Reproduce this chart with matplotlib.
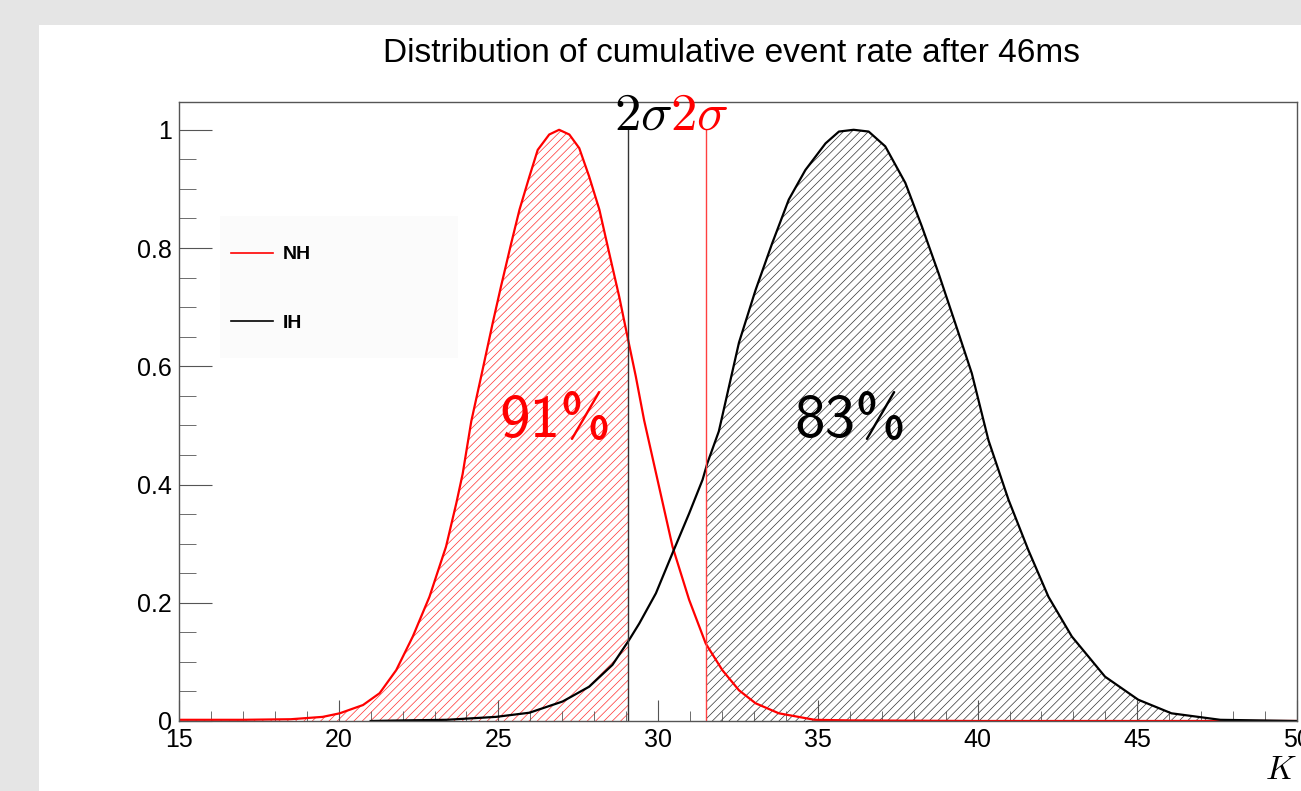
import numpy as np
import matplotlib.pyplot as plt
from matplotlib.patches import Rectangle
from matplotlib.lines import Line2D
from matplotlib.ticker import MultipleLocator

# values
k_nh = [15, 17, 18.5, 19.5, 20.03, 20.76, 21.28, 21.8, 22.32, 22.84, 23.36, 23.68,
        23.88, 24.15, 24.46, 24.82, 25.08, 25.4, 25.66, 25.97, 26.23, 26.59, 26.9,
        27.22, 27.53, 27.84, 28.16, 28.47, 28.78, 29.04, 29.3, 29.56, 30.03, 30.45,
        30.97, 31.49, 32.01, 32.53, 33.05, 33.78, 34.9, 36, 40, 45, 50]
nh = [0.002, 0.002, 0.003, 0.007, 0.013, 0.027, 0.047, 0.086, 0.143, 0.21, 0.295,
      0.368, 0.418, 0.507, 0.583, 0.673, 0.735, 0.808, 0.865, 0.921, 0.966, 0.992,
      1.0, 0.992, 0.969, 0.921, 0.865, 0.791, 0.718, 0.65, 0.583, 0.509, 0.396,
      0.295, 0.205, 0.131, 0.086, 0.052, 0.03, 0.013, 0.002, 0.001, 0.0, 0.0, 0.0]

k_ih = [21, 22, 23.37, 24.93, 25.97, 27.01, 27.84, 28.57, 29.09, 29.41, 29.93,
        30.45, 30.97, 31.39, 31.54, 31.9, 32.11, 32.53, 33.05, 33.57, 34.09, 34.61,
        35.24, 35.66, 36.12, 36.59, 37.11, 37.74, 38.26, 38.78, 39.3, 39.82, 40.34,
        40.97, 41.59, 42.22, 42.95, 43.99, 45.03, 46.07, 47.6, 50]
ih = [0.0, 0.001, 0.002, 0.007, 0.014, 0.033, 0.058, 0.095, 0.137, 0.165, 0.216,
      0.284, 0.351, 0.408, 0.436, 0.49, 0.54, 0.64, 0.729, 0.808, 0.882, 0.932,
      0.977, 0.997, 1.0, 0.997, 0.972, 0.91, 0.836, 0.757, 0.673, 0.588, 0.475,
      0.374, 0.289, 0.21, 0.143, 0.075, 0.036, 0.013, 0.002, 0.0]

cut_ih = 29.06   # black 2 sigma line
cut_nh = 31.5    # red 2 sigma line
frac_nh = "91%"
frac_ih = "83%"

plt.rcParams['font.family'] = ['Liberation Sans', 'DejaVu Sans']
plt.rcParams['mathtext.fontset'] = 'cm'
plt.rcParams['hatch.linewidth'] = 0.5


def main():
    fig = plt.figure(figsize=(13.01, 7.91), dpi=100, facecolor='#e5e5e5')
    fig.patches.append(Rectangle((39 / 1301, 0), 1, 1 - 25 / 791, transform=fig.transFigure,
                                 facecolor='white', edgecolor='none', zorder=-10))

    ax = fig.add_axes([179 / 1301, 70 / 791, 1118 / 1301, 619 / 791])
    ax.set_xlim(15, 50)
    ax.set_ylim(0, 1.047)

    kn = np.array(k_nh)
    ki = np.array(k_ih)

    f1 = ax.fill_between(kn, nh, 0, facecolor='none', edgecolor='#ff3030', hatch='////', linewidth=0)
    f1.set_clip_path(Rectangle((15, 0), cut_ih - 15, 2, transform=ax.transData))
    f2 = ax.fill_between(ki, ih, 0, facecolor='none', edgecolor='#333333', hatch='////', linewidth=0)
    f2.set_clip_path(Rectangle((cut_nh, 0), 50 - cut_nh, 2, transform=ax.transData))

    ax.plot(kn, nh, color='red', lw=1.6)
    ax.plot(ki, ih, color='black', lw=1.6)

    ax.plot([cut_ih, cut_ih], [0, 1.0], color='#333333', lw=1)
    ax.plot([cut_nh, cut_nh], [0, 1.0], color='#ff4040', lw=1)

    ax.text(29.52, 1.0, r"$2\sigma$", color='black', fontsize=38, ha='center', va='baseline')
    ax.text(31.28, 1.0, r"$2\sigma$", color='red', fontsize=38, ha='center', va='baseline')

    ax.text(26.78, 0.48, frac_nh, color='red', fontsize=44, family='cmss10',
            ha='center', va='baseline')
    ax.text(36.02, 0.48, frac_ih, color='black', fontsize=44, family='cmss10',
            ha='center', va='baseline')

    # legend
    ax.add_patch(Rectangle((41 / 1118, (721 - 358) / 619), 238 / 1118, 142 / 619,
                           transform=ax.transAxes, facecolor='#fbfbfb', edgecolor='none',
                           zorder=0))
    handles = [Line2D([], [], color='red', lw=1.2), Line2D([], [], color='black', lw=1.2)]
    ax.legend(handles, ['NH', 'IH'], loc='upper left', frameon=False,
              bbox_to_anchor=(46 / 1118, (721 - 240) / 619),
              prop={'weight': 'bold', 'size': 14}, handlelength=2.15, handletextpad=0.5,
              labelspacing=2.6, borderpad=0.3, borderaxespad=0)

    ax.xaxis.set_major_locator(MultipleLocator(5))
    ax.xaxis.set_minor_locator(MultipleLocator(1))
    ax.set_yticks([0, 0.2, 0.4, 0.6, 0.8, 1.0])
    ax.set_yticklabels(['0', '0.2', '0.4', '0.6', '0.8', '1'])
    ax.yaxis.set_minor_locator(MultipleLocator(0.05))
    ax.tick_params(which='both', direction='in', color='#555555', labelsize=18, pad=5)
    ax.tick_params(axis='x', which='major', length=15)
    ax.tick_params(axis='x', which='minor', length=7)
    ax.tick_params(axis='y', which='major', length=24)
    ax.tick_params(axis='y', which='minor', length=12)
    for s in ax.spines.values():
        s.set_color('#555555')
        s.set_linewidth(1)

    ax.set_xlabel(r"$K$", fontsize=24, loc='right', labelpad=2)

    fig.text(731 / 1301, 1 - 62 / 791, "Distribution of cumulative event rate after 46ms",
             fontsize=24, ha='center', va='baseline')

    fig.savefig("out.png", dpi=100, facecolor=fig.get_facecolor())


if __name__ == "__main__":
    main()
